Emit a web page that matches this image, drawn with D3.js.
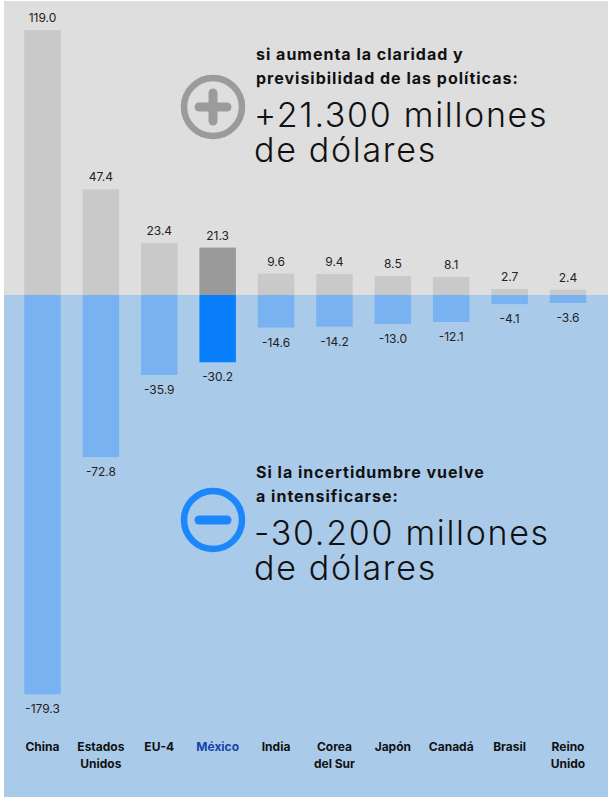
<!DOCTYPE html>
<html>
<head>
  <meta charset="utf-8">
  <title>Claridad vs incertidumbre</title>
<style type="text/css">
body {
  margin: 0;
  background: #fff;
  font-family: Inter, "Noto Sans", sans-serif;
}

.value {
  font-size: 12px;
  fill: #222;
  text-anchor: middle;
}

.cat {
  font-size: 12px;
  font-weight: 700;
  fill: #111;
  text-anchor: middle;
}

.lead {
  font-size: 16px;
  font-weight: 700;
  letter-spacing: 1px;
  fill: #111;
}

.big {
  font-size: 34px;
  font-weight: 300;
  letter-spacing: 1.7px;
  fill: #111;
}
</style>
</head>
<body>
<script src="https://cdn.jsdelivr.net/npm/d3@7"></script>
<script>
var countries = ["China", "Estados Unidos", "EU-4", "México", "India", "Corea del Sur", "Japón", "Canadá", "Brasil", "Reino Unido"];
var catLines = [["China"], ["Estados", "Unidos"], ["EU-4"], ["México"], ["India"], ["Corea", "del Sur"], ["Japón"], ["Canadá"], ["Brasil"], ["Reino", "Unido"]];
var gains = [119.0, 47.4, 23.4, 21.3, 9.6, 9.4, 8.5, 8.1, 2.7, 2.4];
var losses = [-179.3, -72.8, -35.9, -30.2, -14.6, -14.2, -13.0, -12.1, -4.1, -3.6];
var highlight = "México";

var upLines = ["si aumenta la claridad y", "previsibilidad de las políticas:"];
var upBig = ["+21.300 millones", "de dólares"];
var downLines = ["Si la incertidumbre vuelve", "a intensificarse:"];
var downBig = ["-30.200 millones", "de dólares"];

var width = 608, height = 798;

var svg = d3.select("body").append("svg")
    .attr("width", width)
    .attr("height", height);

var x = d3.scaleBand()
    .domain(countries)
    .range([13.3, 597.2])
    .paddingInner(0.375)
    .paddingOuter(0.1875);

var y = d3.scaleLinear()
    .domain([-179.3, 119])
    .range([694.3, 30]);

var y0 = y(0);

// backgrounds
svg.append("rect")
    .attr("x", 4).attr("y", 1)
    .attr("width", 604).attr("height", y0 - 1)
    .attr("fill", "#dedede");

svg.append("rect")
    .attr("x", 4).attr("y", y0)
    .attr("width", 604).attr("height", 797 - y0)
    .attr("fill", "#aacaea");

var data = countries.map(function(c, i) {
  return { name: c, up: gains[i], down: losses[i], lines: catLines[i] };
});

var g = svg.selectAll("g.country")
    .data(data)
  .enter().append("g")
    .attr("class", "country");

g.append("rect")
    .attr("x", function(d) { return x(d.name); })
    .attr("y", function(d) { return y(d.up); })
    .attr("width", x.bandwidth())
    .attr("height", function(d) { return y0 - y(d.up); })
    .attr("fill", function(d) { return d.name == highlight ? "#9a9a9a" : "#c9c9c9"; });

g.append("rect")
    .attr("x", function(d) { return x(d.name); })
    .attr("y", y0)
    .attr("width", x.bandwidth())
    .attr("height", function(d) { return y(d.down) - y0; })
    .attr("fill", function(d) { return d.name == highlight ? "#0a7ffd" : "#78b2f0"; });

g.append("text")
    .attr("class", "value")
    .attr("x", function(d) { return x(d.name) + x.bandwidth() / 2; })
    .attr("y", function(d) { return y(d.up) - 8; })
    .text(function(d) { return d.up.toFixed(1); });

g.append("text")
    .attr("class", "value")
    .attr("x", function(d) { return x(d.name) + x.bandwidth() / 2; })
    .attr("y", function(d) { return y(d.down) + 19; })
    .text(function(d) { return d.down.toFixed(1); });

var cat = g.append("text")
    .attr("class", "cat")
    .attr("y", 751)
    .style("fill", function(d) { return d.name == highlight ? "#1446a6" : "#111"; });

cat.selectAll("tspan")
    .data(function(d) { return d.lines.map(function(l) { return { t: l, cx: x(d.name) + x.bandwidth() / 2 }; }); })
  .enter().append("tspan")
    .attr("x", function(d) { return d.cx; })
    .attr("dy", function(d, i) { return i ? 17 : 0; })
    .text(function(d) { return d.t; });

// annotations
function note(cy, color, plus) {
  var a = svg.append("g");
  a.append("circle")
      .attr("cx", 213).attr("cy", cy).attr("r", 29)
      .attr("fill", "none")
      .attr("stroke", color)
      .attr("stroke-width", 6.5);
  a.append("line")
      .attr("x1", 199).attr("x2", 227)
      .attr("y1", cy).attr("y2", cy)
      .attr("stroke", color).attr("stroke-width", 9)
      .attr("stroke-linecap", "round");
  if (plus) {
    a.append("line")
        .attr("x1", 213).attr("x2", 213)
        .attr("y1", cy - 14).attr("y2", cy + 14)
        .attr("stroke", color).attr("stroke-width", 9)
        .attr("stroke-linecap", "round");
  }
}

function block(top, lead, big) {
  svg.append("text").attr("class", "lead")
      .attr("y", top)
    .selectAll("tspan")
    .data(lead)
    .enter().append("tspan")
      .attr("x", 256)
      .attr("dy", function(d, i) { return i ? 24 : 0; })
      .text(function(d) { return d; });

  svg.append("text").attr("class", "big")
      .attr("y", top + 67)
    .selectAll("tspan")
    .data(big)
    .enter().append("tspan")
      .attr("x", 254)
      .attr("dy", function(d, i) { return i ? 35 : 0; })
      .text(function(d) { return d; });
}

note(107, "#9b9b9b", true);
block(60, upLines, upBig);

note(520, "#1b87fb", false);
block(478, downLines, downBig);
</script>
</body>
</html>
